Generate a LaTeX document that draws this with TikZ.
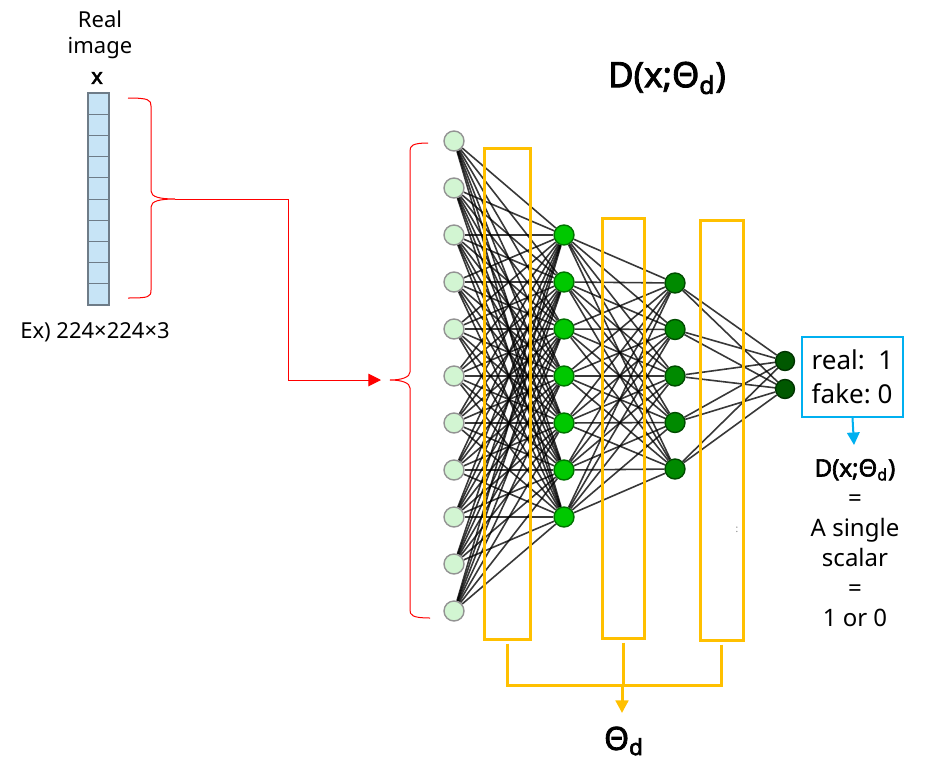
\documentclass[tikz,border=0pt]{standalone}
\usepackage{fontspec}
\setmainfont{Noto Sans}[BoldFont={Noto Sans},BoldFeatures={FakeBold=2.5}]
\usetikzlibrary{arrows.meta,backgrounds}
\definecolor{brace}{HTML}{FF0000}
\definecolor{weight}{HTML}{FFC000}
\definecolor{outline}{HTML}{00B0F0}
\definecolor{cell}{HTML}{C7E4F6}
\definecolor{cellrule}{HTML}{6E7C88}
\definecolor{layerin}{HTML}{D2F5D2}
\definecolor{layerone}{HTML}{00C800}
\definecolor{layertwo}{HTML}{008A00}
\definecolor{layerout}{HTML}{005800}

\tikzset{
  neuron/.style={circle,draw,line width=0.7pt,minimum size=10pt,inner sep=0pt},
  synapse/.style={draw=black,opacity=0.78,line width=0.8pt},
  wbox/.style={draw=weight,line width=1.5pt,inner sep=0pt},
}

\begin{document}
\begin{tikzpicture}[x=0.5pt,y=-0.5pt,font=\fontsize{11}{13}\selectfont,>={Triangle[length=2.2mm,width=2.2mm]}]
  \useasboundingbox (0,0) rectangle (925,776);

  % input vector
  \node[align=center] (realimg) at (100,35) {Real\\image};
  \node[font=\fontsize{11}{13}\selectfont\bfseries] (xvec) at (97,78) {x};
  \fill[cell] (88,93) rectangle (109,305);
  \foreach \r in {1,...,9}
    \draw[cellrule,line width=0.5pt] (88,{93+21.2*\r}) -- (109,{93+21.2*\r});
  \draw[cellrule,line width=0.6pt] (88,93) rectangle (109,305);
  \node (size) at (95,332) {Ex) 224×224×3};

  % braces and the red feed line
  \coordinate (tipA) at (175,199);
  \coordinate (tipB) at (390,380);
  \coordinate (feed) at (381,380);
  \draw[brace,line width=0.5pt] (128,98) .. controls (149,98) and (151,100) .. (151,106)
    -- (151,191) .. controls (151,197) and (160,199) .. (tipA)
    .. controls (160,199) and (151,201) .. (151,207)
    -- (151,290) .. controls (151,297) and (149,298) .. (128,298);
  \draw[brace,line width=0.5pt] (428,143) .. controls (412,143) and (410,146) .. (410,151)
    -- (410,372) .. controls (410,377) and (402,380) .. (tipB)
    .. controls (402,380) and (410,383) .. (410,388)
    -- (410,610) .. controls (410,615) and (412,618) .. (430,618);
  \draw[brace,line width=0.5pt,->] (tipA) -- (288,199) |- (feed);

  % neurons
  \foreach \i in {1,...,11}
    \node[neuron,fill=layerin,draw=gray!85] (a\i) at (454,{141+47*(\i-1)}) {};
  \foreach \j in {1,...,7}
    \node[neuron,fill=layerone,draw=green!45!black] (b\j) at (564,{235+47*(\j-1)}) {};
  \foreach \k in {1,...,5}
    \node[neuron,fill=layertwo,draw=green!30!black] (c\k) at (675,{283+46.5*(\k-1)}) {};
  \node[neuron,minimum size=9.5pt,fill=layerout,draw=green!20!black] (d1) at (785,361) {};
  \node[neuron,minimum size=9.5pt,fill=layerout,draw=green!20!black] (d2) at (785,389) {};

  \begin{scope}[on background layer]
    \foreach \i in {1,...,11}
      \foreach \j in {1,...,7}
        \draw[synapse] (a\i) -- (b\j);
    \foreach \j in {1,...,7}
      \foreach \k in {1,...,5}
        \draw[synapse] (b\j) -- (c\k);
    \foreach \k in {1,...,5}
      \foreach \m in {1,2}
        \draw[synapse] (c\k) -- (d\m);
  \end{scope}

  % weight groups
  \node[wbox,minimum width=23pt,minimum height=245.5pt] (w1) at (507,393.5) {};
  \node[wbox,minimum width=21pt,minimum height=210pt] (w2) at (623,428) {};
  \node[wbox,minimum width=21.5pt,minimum height=210pt] (w3) at (721.5,430) {};
  \node[font=\tiny,text=gray] (mark) at (737,530) {:};

  \coordinate (join) at (622,685);
  \node[font=\fontsize{16}{18}\selectfont\bfseries] (thetad) at (624,741) {Θ\textsubscript{d}};
  \draw[weight,line width=1.5pt] ([yshift=-1.5pt]w1.south) |- (join);
  \draw[weight,line width=1.5pt] ([yshift=-1.5pt]w3.south) |- (join);
  \draw[weight,line width=1.5pt] ([yshift=-1.5pt]w2.south) -- (w2.south |- join);
  \draw[weight,line width=1.5pt,->] (join) -- (622,713);

  % title
  \node[font=\fontsize{17.5}{20}\selectfont\bfseries] (title) at (667,78) {D(x;Θ\textsubscript{d})};

  % output
  \node[draw=outline,line width=1pt,align=left,minimum width=50.5pt,minimum height=40pt,
        inner xsep=1pt,font=\fontsize{13}{17}\selectfont] (outbox) at (852.5,377) {real:~~1\\fake:~0};
  \node[align=center,anchor=north,font=\fontsize{12}{15}\selectfont] (verdict) at (855,452)
    {\textbf{D(x;Θ\textsubscript{d})}\\=\\A single\\scalar\\=\\1 or 0};
  \draw[outline,line width=1pt,->] (outbox.south) -- (854,445);
\end{tikzpicture}
\end{document}
